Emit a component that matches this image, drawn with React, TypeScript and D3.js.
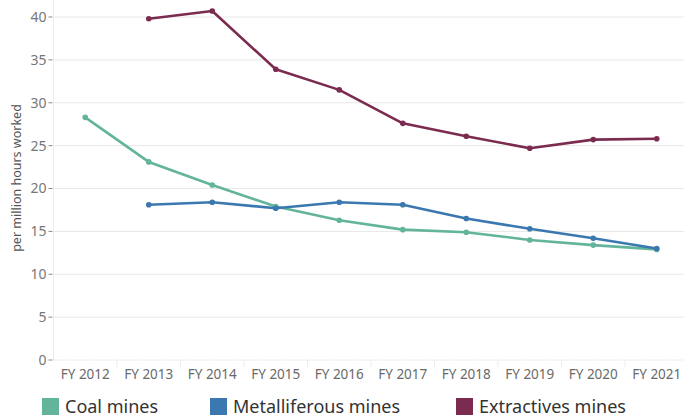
import React from "react";
import * as d3 from "d3";

const years = ["FY 2012", "FY 2013", "FY 2014", "FY 2015", "FY 2016", "FY 2017", "FY 2018", "FY 2019", "FY 2020", "FY 2021"];
const coal = [28.3, 23.1, 20.4, 17.9, 16.3, 15.2, 14.9, 14.0, 13.4, 12.9];
const metalliferous = [null, 18.1, 18.4, 17.7, 18.4, 18.1, 16.5, 15.3, 14.2, 13.0];
const extractives = [null, 39.8, 40.7, 33.9, 31.5, 27.6, 26.1, 24.7, 25.7, 25.8];
const yTicks = [0, 5, 10, 15, 20, 25, 30, 35, 40];

const series = [
  { name: "Coal mines", values: coal, color: "#62b49a" },
  { name: "Metalliferous mines", values: metalliferous, color: "#3a78af" },
  { name: "Extractives mines", values: extractives, color: "#7b2b50" },
];

const W = 684;
const H = 418;
const left = 53.5;
const bottom = 360;
const font = "'Noto Sans', 'Open Sans', sans-serif";

export default function App() {
  const x = d3.scaleBand<string>().domain(years).range([left, left + 635]);
  const y = d3.scaleLinear().domain([0, 40]).range([bottom, 17]);
  const cx = (d: string) => (x(d) as number) + x.bandwidth() / 2;

  const line = d3
    .line<number | null>()
    .defined((d) => d != null)
    .x((_, i) => cx(years[i]))
    .y((d) => y(d as number));

  const legendX = [42, 210, 456];

  return (
    <svg width={W} height={H} style={{ position: "absolute", left: 0, top: 0, fontFamily: font }}>
      <rect width={W} height={H} fill="#fff" />
      {/* grid */}
      {yTicks.filter((t) => t > 0).map((t) => (
        <line key={t} x1={left} x2={W} y1={y(t)} y2={y(t)} stroke="#e8e8e8" strokeWidth={1} />
      ))}
      <line x1={left} x2={W} y1={bottom} y2={bottom} stroke="#e4e4e4" strokeDasharray="2,1" />
      <line x1={left} x2={left} y1={0} y2={bottom} stroke="#ececec" />
      {/* y axis ticks */}
      {yTicks.map((t) => (
        <g key={t}>
          <line x1={left - 5} x2={left - 1} y1={y(t)} y2={y(t)} stroke="#888" />
          <text x={left - 7} y={y(t)} dy="0.35em" textAnchor="end" fontSize={14} fill="#777">
            {t}
          </text>
        </g>
      ))}
      <text
        transform={`translate(21,178) rotate(-90)`}
        textAnchor="middle"
        fontSize={12.5}
        fill="#555"
      >
        per million hours worked
      </text>
      {/* x axis */}
      {years.map((d, i) => (
        <g key={d}>
          {i > 0 && <line x1={x(d)} x2={x(d)} y1={bottom} y2={bottom + 7} stroke="#ececec" />}
          <text x={cx(d)} y={374} dy="0.35em" textAnchor="middle" fontSize={13.5} fill="#6a6a6a">
            {d}
          </text>
        </g>
      ))}
      {/* lines */}
      {series.map((s) => (
        <g key={s.name}>
          <path d={line(s.values) || ""} fill="none" stroke={s.color} strokeWidth={2.6} strokeLinejoin="round" />
          {s.values.map((v, i) =>
            v == null ? null : <circle key={i} cx={cx(years[i])} cy={y(v)} r={2.8} fill={s.color} />
          )}
        </g>
      ))}
      {/* legend */}
      {series.map((s, i) => (
        <g key={s.name} transform={`translate(${legendX[i]},398)`}>
          <rect width={17} height={17} fill={s.color} />
          <text x={23} y={9} dy="0.36em" fontSize={18} fill="#333">
            {s.name}
          </text>
        </g>
      ))}
    </svg>
  );
}
